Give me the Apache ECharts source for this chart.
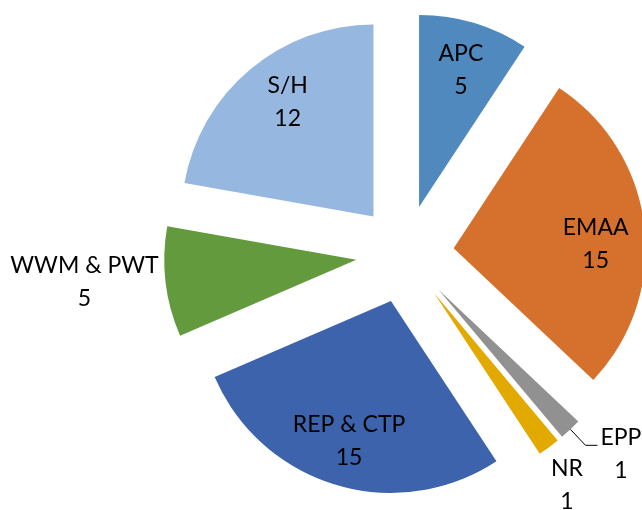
<!DOCTYPE html>
<html>
<head>
<meta charset="utf-8">
<script src="https://cdn.jsdelivr.net/npm/echarts@6/dist/echarts.min.js"></script>
<style>
  html, body { margin: 0; padding: 0; background: #fff; }
  #main { width: 642px; height: 510px; }
</style>
</head>
<body>
<div id="main"></div>
<script>
  const names = ["APC", "EMAA", "EPP", "NR", "REP & CTP", "WWM & PWT", "S/H"];
  const values = [5, 15, 1, 1, 15, 5, 12];
  const colors = ["#4f89be", "#d5702d", "#919191", "#e2aa00", "#3c63ab", "#639a3e", "#96b8e0"];
  // which slices carry their label inside the wedge
  const inside = [true, true, false, false, true, false, true];

  const myChart = echarts.init(document.getElementById("main"));
  const font = "Lato, 'Noto Sans', sans-serif";

  const textRich = {
    t: { fontFamily: font, fontSize: 23, lineHeight: 33, color: "#000", align: "center" },
  };

  // label line / nudge settings for a few labels
  const outsideLabel = {
    EPP: { line: true, length: 22, length2: 12, padding: [18, 0, 0, 0], dist: 3 },
    NR: { line: false, length: 47, length2: -29, padding: 0, dist: 3 },
    "WWM & PWT": { line: false, length: 0, length2: 0, padding: 0, dist: 7 },
  };
  const insidePad = {
    APC: [6, 0, 0, 0],
    EMAA: [26, 6, 0, 0],
    "S/H": [0, 0, 6, 16],
  };

  const mainData = names.map((n, i) => {
    const item = {
      name: n,
      value: values[i],
      selected: true,
      itemStyle: { color: colors[i] },
    };
    if (inside[i]) {
      item.label = { show: false };
      item.labelLine = { show: false };
    } else {
      const o = outsideLabel[n];
      item.label = { show: true, position: "outside", padding: o.padding, distanceToLabelLine: o.dist };
      item.labelLine = {
        show: o.line,
        length: o.length,
        length2: o.length2,
        lineStyle: { color: "#000", width: 1 },
      };
    }
    return item;
  });

  const labelData = names.map((n, i) => ({
    name: n,
    value: values[i],
    selected: true,
    label: { show: inside[i], padding: insidePad[n] || 0 },
  }));

  const option = {
    backgroundColor: "#fff",
    animation: false,
    series: [
      {
        type: "pie",
        center: [405, 254],
        radius: [0, 192],
        startAngle: 90,
        clockwise: true,
        selectedMode: "multiple",
        selectedOffset: 49,
        avoidLabelOverlap: false,
        labelLayout: { hideOverlap: false },
        emphasis: { disabled: true },
        label: {
          formatter: "{t|{b}}\n{t|{c}}",
          rich: textRich,
        },
        data: mainData,
      },
      {
        type: "pie",
        center: [405, 254],
        radius: [94, 192],
        startAngle: 90,
        clockwise: true,
        selectedMode: "multiple",
        selectedOffset: 49,
        silent: true,
        avoidLabelOverlap: false,
        emphasis: { disabled: true },
        itemStyle: { color: "rgba(0,0,0,0)" },
        label: {
          position: "inside",
          formatter: "{t|{b}}\n{t|{c}}",
          rich: textRich,
        },
        labelLine: { show: false },
        data: labelData,
      },
    ],
  };

  myChart.setOption(option);
</script>
</body>
</html>
